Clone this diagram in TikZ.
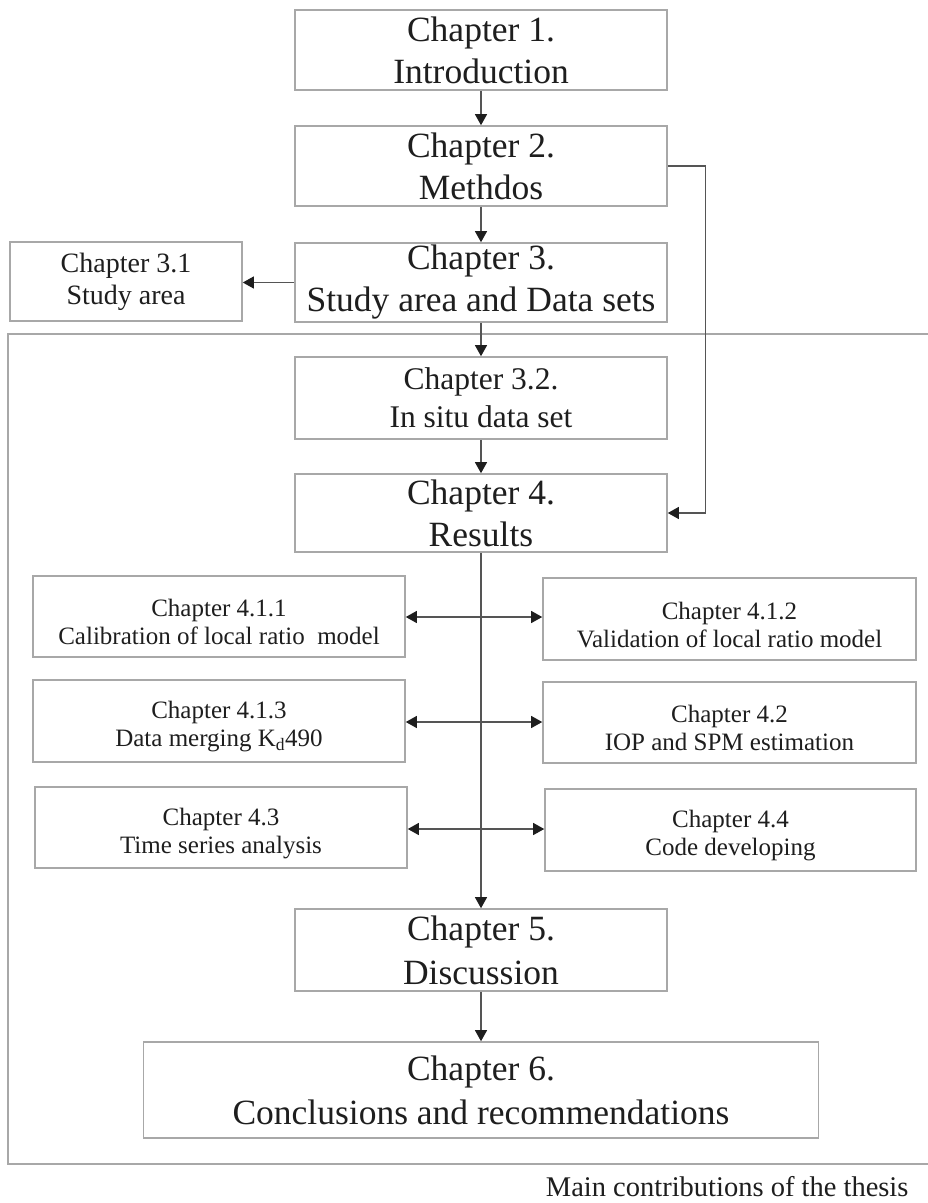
\documentclass[tikz,border=0pt]{standalone}
\usepackage{fontspec}
\setmainfont{Liberation Serif}
\usetikzlibrary{arrows.meta}
\definecolor{boxgray}{HTML}{A8A8A8}
\definecolor{linegray}{HTML}{555555}
\definecolor{txt}{HTML}{1E1E1E}
\newcommand{\lowstrut}{\rule{0pt}{29pt}}
\begin{document}
\begin{tikzpicture}[x=1pt,y=-1pt,
  box/.style={draw=boxgray,line width=1.6pt,rectangle,inner sep=0pt,align=center,text=txt},
  bigbox/.style={box,font=\fontsize{35.5}{42}\selectfont},
  lowbigbox/.style={box,font=\fontsize{35.5}{44}\selectfont},
  midbox/.style={box,font=\fontsize{31.5}{38}\selectfont},
  smallbox/.style={box,font=\fontsize{28}{32}\selectfont},
  subbox/.style={box,font=\fontsize{25}{28}\selectfont},
  conn/.style={draw=linegray,line width=1.1pt},
  tip/.style={-{Triangle[length=11pt,width=12pt,color=txt]}},
  dtip/.style={{Triangle[length=11pt,width=12pt,color=txt]}-{Triangle[length=11pt,width=12pt,color=txt]}}
]
\useasboundingbox (0,0) rectangle (928,1203);
\fill[white] (0,0) rectangle (928,1203);
% outer frame
\draw[draw=boxgray,line width=1.4pt] (935,334) -- (8,334) -- (8,1164) -- (935,1164);

\node[bigbox,minimum width=372pt,minimum height=80pt] (c1) at (481,50) {Chapter 1.\\Introduction};
\node[bigbox,minimum width=372pt,minimum height=80pt] (c2) at (481,166) {Chapter 2.\\Methdos};
\node[bigbox,minimum width=372pt,minimum height=79pt] (c3) at (481,282.5) {Chapter 3.\\Study area and Data sets};
\node[smallbox,minimum width=232pt,minimum height=79pt] (c31) at (126,281.5) {Chapter 3.1\\Study area};
\node[midbox,minimum width=372pt,minimum height=82pt] (c32) at (481,398) {Chapter 3.2.\\In situ data set};
\node[bigbox,minimum width=372pt,minimum height=78pt] (c4) at (481,513) {Chapter 4.\\Results};

\node[subbox,minimum width=372pt,minimum height=81pt] (c411) at (219,616.5) {\lowstrut Chapter 4.1.1\\Calibration of local ratio\ \ model};
\node[subbox,minimum width=373pt,minimum height=82pt] (c412) at (729.5,619) {\lowstrut Chapter 4.1.2\\Validation of local ratio model};
\node[subbox,minimum width=372pt,minimum height=82pt] (c413) at (219,721) {\lowstrut Chapter 4.1.3\\Data merging K\textsubscript{d}490};
\node[subbox,minimum width=373pt,minimum height=81pt] (c42) at (729.5,722.5) {\lowstrut Chapter 4.2\\IOP and SPM estimation};
\node[subbox,minimum width=372pt,minimum height=81pt] (c43) at (221,827.5) {\lowstrut Chapter 4.3\\Time series analysis};
\node[subbox,minimum width=371pt,minimum height=82pt] (c44) at (730.5,830) {\lowstrut Chapter 4.4\\Code developing};

\node[lowbigbox,minimum width=372pt,minimum height=82pt] (c5) at (481,950) {Chapter 5.\\Discussion};
\node[lowbigbox,minimum width=675pt,minimum height=96pt] (c6) at (481,1090) {Chapter 6.\\Conclusions and recommendations};

\node[font=\fontsize{28.5}{32}\selectfont,text=txt,anchor=east] (cap) at (912,1187) {Main contributions of the thesis};

% connectors
\draw[conn,tip] (c1) -- (c2);
\draw[conn,tip] (c2) -- (c3);
\draw[conn,tip] (c3.west) -- (c3.west -| c31.east);
\draw[conn,tip] (c3) -- (c32);
\draw[conn,tip] (c32) -- (c4);
\draw[conn,tip] (c2.east) -- ++(38,0) |- (c4.east);
\draw[conn,tip] (c4) -- (c5);
\draw[conn,tip] (c5) -- (c6);
\draw[conn,dtip] (c411.east |- 0,617) -- (c412.west |- 0,617);
\draw[conn,dtip] (c413.east |- 0,722) -- (c42.west |- 0,722);
\draw[conn,dtip] (c43.east |- 0,829) -- (c44.west |- 0,829);
\end{tikzpicture}
\end{document}
